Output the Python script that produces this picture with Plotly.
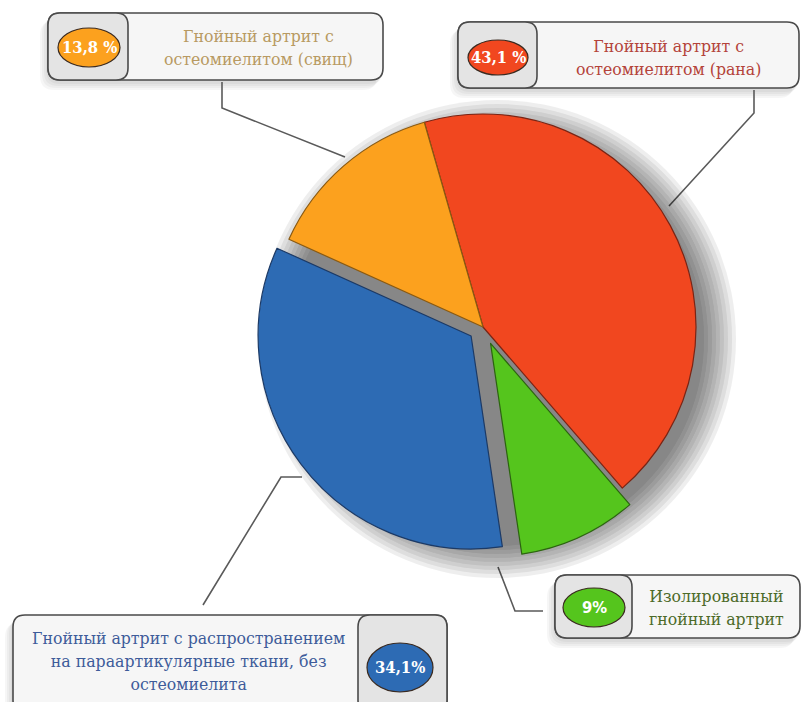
import plotly.graph_objects as go

# ---------------- data ----------------
categories = [
    "Гнойный артрит с остеомиелитом (рана)",
    "Изолированный гнойный артрит",
    "Гнойный артрит с распространением на параартикулярные ткани, без остеомиелита",
    "Гнойный артрит с остеомиелитом (свищ)",
]
values = [43.1, 9.0, 34.1, 13.8]
pct_labels = ["43,1 %", "9%", "34,1%", "13,8 %"]
box_texts = [
    "Гнойный артрит с<br>остеомиелитом (рана)",
    "Изолированный<br>гнойный артрит",
    "Гнойный артрит с распространением<br>на параартикулярные ткани, без<br>остеомиелита",
    "Гнойный артрит с<br>остеомиелитом (свищ)",
]
pulls = [0.0, 0.085, 0.07, 0.0]

# ---------------- styles ----------------
colors = ["#f1471f", "#55c51d", "#2d6bb4", "#fca11e"]
edge_colors = ["#7a2414", "#2c6410", "#1c3a66", "#8a5a12"]
text_colors = ["#b4433a", "#4c6a28", "#3e5c9a", "#b89a62"]
SERIF = "DejaVu Serif Condensed, DejaVu Serif, serif"

W, H = 802, 702
cx, cy, R = 483, 327, 213

boxes = [
    dict(o=(458, 799, 22, 88), i=(458, 537), e=(468, 528, 40, 75), t=(668, 57)),
    dict(o=(555, 800, 575, 638), i=(555, 632), e=(563, 625, 588, 627), t=(716, 607)),
    dict(o=(13, 447, 615, 712), i=(358, 447), e=(367, 433, 643, 692), t=(188, 661)),
    dict(o=(48, 383, 13, 80), i=(48, 128), e=(58, 120, 28, 67), t=(258, 47)),
]
leaders = [
    ([754, 754, 669], [90, 113, 206]),
    ([498, 515, 543], [567, 611, 611]),
    ([302, 281, 203], [477, 477, 605]),
    ([222, 222, 345], [82, 108, 157]),
]


def dom(x, y, half):
    return dict(x=[(x - half) / W, (x + half) / W],
                y=[1 - (y + half) / H, 1 - (y - half) / H])


def rrect(x0, x1, y0, y1, r=12):
    return (f"M{x0+r},{y0} L{x1-r},{y0} Q{x1},{y0} {x1},{y0+r} "
            f"L{x1},{y1-r} Q{x1},{y1} {x1-r},{y1} L{x0+r},{y1} "
            f"Q{x0},{y1} {x0},{y1-r} L{x0},{y0+r} Q{x0},{y0} {x0+r},{y0} Z")


fig = go.Figure()

for xs, ys in leaders:
    fig.add_trace(go.Scatter(x=xs, y=ys, mode="lines",
                             line=dict(color="#5a5a5a", width=1.6),
                             hoverinfo="skip", showlegend=False))

# soft shadow behind pie (offset to lower right)
for k in range(9):
    rk = R - 6 + k * 4
    fig.add_trace(go.Pie(values=[1], marker=dict(colors=["rgba(0,0,0,0.065)"],
                                                 line=dict(width=0)),
                         textinfo="none", hoverinfo="skip", showlegend=False,
                         sort=False, domain=dom(cx + 14, cy + 12, rk)))

half = R * (1 + max(pulls))
fig.add_trace(go.Pie(
    labels=categories, values=values, sort=False, direction="clockwise",
    rotation=-16, pull=pulls, textinfo="none", showlegend=False,
    marker=dict(colors=colors, line=dict(color=edge_colors, width=1.2)),
    domain=dom(cx, cy, half),
))

shapes = []
annotations = []
for b, pct, txt, col, tcol in zip(boxes, pct_labels, box_texts, colors, text_colors):
    x0, x1, y0, y1 = b["o"]
    for k in range(4):
        d = 2 + k * 2
        shapes.append(dict(type="path", xref="x", yref="y", layer="below",
                           path=rrect(x0 - d, x1 - d + 2, y0 + d, y1 + d + 2, 14),
                           fillcolor="rgba(0,0,0,0.035)", line=dict(width=0)))
    shapes.append(dict(type="path", xref="x", yref="y", path=rrect(x0, x1, y0, y1),
                       fillcolor="#f6f6f6", line=dict(color="#4a4a4a", width=1.6)))
    ix0, ix1 = b["i"]
    shapes.append(dict(type="path", xref="x", yref="y", path=rrect(ix0, ix1, y0, y1),
                       fillcolor="#e4e4e4", line=dict(color="#4a4a4a", width=1.6)))
    ex0, ex1, ey0, ey1 = b["e"]
    shapes.append(dict(type="circle", xref="x", yref="y", x0=ex0, x1=ex1, y0=ey0, y1=ey1,
                       fillcolor=col, line=dict(color="#3a2a20", width=1.2)))
    fam = "DejaVu Sans Condensed, DejaVu Sans, sans-serif" if pct == "9%" else SERIF
    annotations.append(dict(x=(ex0 + ex1) / 2, y=(ey0 + ey1) / 2, xref="x", yref="y",
                            text=f"<b>{pct}</b>", showarrow=False,
                            font=dict(family=fam, size=16.5, color="white")))
    tx, ty = b["t"]
    annotations.append(dict(x=tx, y=ty, xref="x", yref="y", text=txt, showarrow=False,
                            align="center",
                            font=dict(family=SERIF, size=17.5, color=tcol)))

fig.update_layout(
    width=W, height=H, margin=dict(l=0, r=0, t=0, b=0),
    paper_bgcolor="white", plot_bgcolor="rgba(0,0,0,0)",
    xaxis=dict(range=[0, W], visible=False, fixedrange=True),
    yaxis=dict(range=[H, 0], visible=False, fixedrange=True),
    shapes=shapes, annotations=annotations, showlegend=False,
)

fig.write_html("out.html")
